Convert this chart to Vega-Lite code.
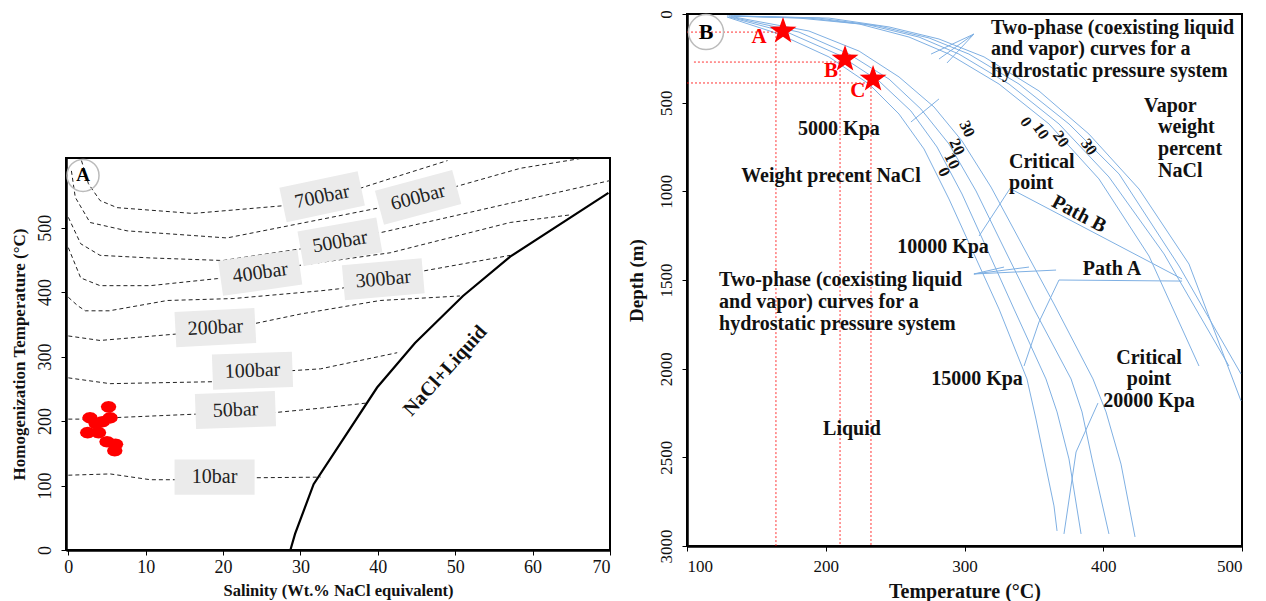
{
  "$schema": "https://vega.github.io/schema/vega-lite/v6.json",
  "background": "white",
  "padding": {"left": 9, "top": 8, "right": 5, "bottom": 0},
  "config": {
    "font": "Liberation Serif",
    "view": {"stroke": "black", "strokeWidth": 2},
    "axis": {
      "labelFont": "Liberation Serif", "titleFont": "Liberation Serif",
      "labelFontSize": 17, "titleFontSize": 15, "titleFontWeight": "bold",
      "labelColor": "#111", "titleColor": "#111",
      "domainColor": "black", "domainWidth": 2.5, "tickColor": "black", "tickSize": 5, "grid": false
    }
  },
  "datasets": {
    "isobars": [
      {"p":"10bar","i":0,"x":0,"y":116},{"p":"10bar","i":1,"x":5.4,"y":118},{"p":"10bar","i":2,"x":10.6,"y":109},{"p":"10bar","i":3,"x":14.7,"y":109},{"p":"10bar","i":4,"x":18.9,"y":112},{"p":"10bar","i":5,"x":23.5,"y":112},{"p":"10bar","i":6,"x":32.6,"y":113},
      {"p":"50bar","i":0,"x":0,"y":203},{"p":"50bar","i":1,"x":2.5,"y":203},{"p":"50bar","i":2,"x":5.4,"y":205},{"p":"50bar","i":3,"x":17,"y":211},{"p":"50bar","i":4,"x":21.6,"y":212},{"p":"50bar","i":5,"x":25.7,"y":212},{"p":"50bar","i":6,"x":30,"y":217},{"p":"50bar","i":7,"x":32.6,"y":220},{"p":"50bar","i":8,"x":38.6,"y":228},
      {"p":"100bar","i":0,"x":0,"y":267},{"p":"100bar","i":1,"x":5.4,"y":258},{"p":"100bar","i":2,"x":18.7,"y":261},{"p":"100bar","i":3,"x":23.8,"y":270},{"p":"100bar","i":4,"x":28.7,"y":278},{"p":"100bar","i":5,"x":32.6,"y":281},{"p":"100bar","i":6,"x":42.5,"y":306},
      {"p":"200bar","i":0,"x":0,"y":332},{"p":"200bar","i":1,"x":4.1,"y":325},{"p":"200bar","i":2,"x":14,"y":335},{"p":"200bar","i":3,"x":19,"y":343},{"p":"200bar","i":4,"x":24,"y":351},{"p":"200bar","i":5,"x":30,"y":366},{"p":"200bar","i":6,"x":40.3,"y":387},{"p":"200bar","i":7,"x":50.6,"y":394},
      {"p":"300bar","i":0,"x":0,"y":392},{"p":"300bar","i":1,"x":1.2,"y":379},{"p":"300bar","i":2,"x":2.2,"y":371},{"p":"300bar","i":3,"x":5.3,"y":371},{"p":"300bar","i":4,"x":12.8,"y":387},{"p":"300bar","i":5,"x":21.3,"y":390},{"p":"300bar","i":6,"x":32.6,"y":402},{"p":"300bar","i":7,"x":34.9,"y":405},{"p":"300bar","i":8,"x":40.7,"y":419},{"p":"300bar","i":9,"x":44.6,"y":430},{"p":"300bar","i":10,"x":57.1,"y":457},
      {"p":"400bar","i":0,"x":0,"y":469},{"p":"400bar","i":1,"x":1.6,"y":422},{"p":"400bar","i":2,"x":4.1,"y":410},{"p":"400bar","i":3,"x":10.6,"y":410},{"p":"400bar","i":4,"x":19.3,"y":421},{"p":"400bar","i":5,"x":24.8,"y":431},{"p":"400bar","i":6,"x":29.6,"y":441},{"p":"400bar","i":7,"x":41.6,"y":461},{"p":"400bar","i":8,"x":57.1,"y":508},{"p":"400bar","i":9,"x":65,"y":520},
      {"p":"500bar","i":0,"x":0,"y":516},{"p":"500bar","i":1,"x":1.6,"y":475},{"p":"500bar","i":2,"x":4.1,"y":457},{"p":"500bar","i":3,"x":10.6,"y":453},{"p":"500bar","i":4,"x":20,"y":449},{"p":"500bar","i":5,"x":30,"y":467},{"p":"500bar","i":6,"x":35.1,"y":478},{"p":"500bar","i":7,"x":39.9,"y":491},{"p":"500bar","i":8,"x":57.5,"y":539},{"p":"500bar","i":9,"x":70,"y":573},
      {"p":"600bar","i":0,"x":0.4,"y":588},{"p":"600bar","i":1,"x":0.9,"y":547},{"p":"600bar","i":2,"x":2.8,"y":508},{"p":"600bar","i":3,"x":7.6,"y":495},{"p":"600bar","i":4,"x":20.5,"y":484},{"p":"600bar","i":5,"x":39.9,"y":530},{"p":"600bar","i":6,"x":45.2,"y":547},{"p":"600bar","i":7,"x":49.6,"y":562},{"p":"600bar","i":8,"x":58.4,"y":592},{"p":"600bar","i":9,"x":66.1,"y":607},
      {"p":"700bar","i":0,"x":1.7,"y":604},{"p":"700bar","i":1,"x":2.6,"y":568},{"p":"700bar","i":2,"x":4.1,"y":542},{"p":"700bar","i":3,"x":6.3,"y":531},{"p":"700bar","i":4,"x":16.1,"y":522},{"p":"700bar","i":5,"x":27.8,"y":534},{"p":"700bar","i":6,"x":32.8,"y":548},{"p":"700bar","i":7,"x":37.7,"y":561},{"p":"700bar","i":8,"x":41.6,"y":576},{"p":"700bar","i":9,"x":49,"y":604}
    ],
    "nacl": [
      {"i":0,"x":28.7,"y":0},{"i":1,"x":29.3,"y":25},{"i":2,"x":31.7,"y":102},{"i":3,"x":39.9,"y":252},{"i":4,"x":44.8,"y":321},{"i":5,"x":51,"y":394},{"i":6,"x":57.1,"y":455},{"i":7,"x":69.8,"y":554}
    ],
    "isolabels": [
      {"label":"700bar","x":32.8,"y":548,"tilt":-12},
      {"label":"600bar","x":45.2,"y":547,"tilt":-15},
      {"label":"500bar","x":35.1,"y":478,"tilt":-10},
      {"label":"400bar","x":24.8,"y":430,"tilt":-8},
      {"label":"300bar","x":40.7,"y":420,"tilt":-5},
      {"label":"200bar","x":19,"y":345,"tilt":-3},
      {"label":"100bar","x":23.8,"y":278,"tilt":-2},
      {"label":"50bar","x":21.6,"y":217,"tilt":-2},
      {"label":"10bar","x":18.9,"y":113,"tilt":0}
    ],
    "dots": [
      {"x":5.2,"y":222},{"x":2.8,"y":205},{"x":5.4,"y":205},{"x":3.6,"y":196},{"x":4.4,"y":199},{"x":2.5,"y":182},{"x":3.9,"y":182},{"x":5,"y":168},{"x":6.1,"y":164},{"x":6.0,"y":154}
    ],
    "curves": [
      {"g":"L0","i":0,"t":128.8,"d":17},{"g":"L0","i":1,"t":166.3,"d":113},{"g":"L0","i":2,"t":202.3,"d":242},{"g":"L0","i":3,"t":231.2,"d":395},{"g":"L0","i":4,"t":252.8,"d":564},{"g":"L0","i":5,"t":270.8,"d":761},{"g":"L0","i":6,"t":288.8,"d":1043},{"g":"L0","i":7,"t":306.8,"d":1353},{"g":"L0","i":8,"t":324.9,"d":1664},{"g":"L0","i":9,"t":345.0,"d":2058},{"g":"L0","i":10,"t":351.5,"d":2284},{"g":"L0","i":11,"t":364.5,"d":2774},{"g":"L0","i":12,"t":366.7,"d":2915},
      {"g":"L10","i":0,"t":130.3,"d":17},{"g":"L10","i":1,"t":173.5,"d":107},{"g":"L10","i":2,"t":209.5,"d":231},{"g":"L10","i":3,"t":238.4,"d":378},{"g":"L10","i":4,"t":261.4,"d":547},{"g":"L10","i":5,"t":280.2,"d":750},{"g":"L10","i":6,"t":298.2,"d":1015},{"g":"L10","i":7,"t":316.2,"d":1325},{"g":"L10","i":8,"t":335.7,"d":1664},{"g":"L10","i":9,"t":358.7,"d":2058},{"g":"L10","i":10,"t":366.7,"d":2244},{"g":"L10","i":11,"t":375.3,"d":2509},{"g":"L10","i":12,"t":384.0,"d":2932},
      {"g":"L20","i":0,"t":131.7,"d":17},{"g":"L20","i":1,"t":180.7,"d":102},{"g":"L20","i":2,"t":216.8,"d":226},{"g":"L20","i":3,"t":245.6,"d":367},{"g":"L20","i":4,"t":268.6,"d":536},{"g":"L20","i":5,"t":288.8,"d":733},{"g":"L20","i":6,"t":308.3,"d":998},{"g":"L20","i":7,"t":327.0,"d":1297},{"g":"L20","i":8,"t":350.1,"d":1664},{"g":"L20","i":9,"t":376.8,"d":2058},{"g":"L20","i":10,"t":384.7,"d":2244},{"g":"L20","i":11,"t":391.9,"d":2509},{"g":"L20","i":12,"t":404.1,"d":2932},
      {"g":"L30","i":0,"t":133.9,"d":17},{"g":"L30","i":1,"t":187.9,"d":96},{"g":"L30","i":2,"t":224.0,"d":209},{"g":"L30","i":3,"t":252.8,"d":355},{"g":"L30","i":4,"t":278.0,"d":524},{"g":"L30","i":5,"t":298.2,"d":716},{"g":"L30","i":6,"t":319.1,"d":976},{"g":"L30","i":7,"t":339.3,"d":1269},{"g":"L30","i":8,"t":364.5,"d":1635},{"g":"L30","i":9,"t":392.6,"d":2058},{"g":"L30","i":10,"t":402.0,"d":2244},{"g":"L30","i":11,"t":412.8,"d":2538},{"g":"L30","i":12,"t":422.9,"d":2949},
      {"g":"R0","i":0,"t":128.8,"d":11},{"g":"R0","i":1,"t":180.7,"d":23},{"g":"R0","i":2,"t":224.0,"d":56},{"g":"R0","i":3,"t":260.0,"d":130},{"g":"R0","i":4,"t":288.8,"d":226},{"g":"R0","i":5,"t":324.9,"d":395},{"g":"R0","i":6,"t":360.9,"d":620},{"g":"R0","i":7,"t":396.9,"d":930},{"g":"R0","i":8,"t":433.0,"d":1365},{"g":"R0","i":9,"t":469.0,"d":1985},
      {"g":"R10","i":0,"t":130.3,"d":11},{"g":"R10","i":1,"t":187.9,"d":23},{"g":"R10","i":2,"t":231.2,"d":62},{"g":"R10","i":3,"t":267.2,"d":130},{"g":"R10","i":4,"t":296.0,"d":226},{"g":"R10","i":5,"t":332.1,"d":395},{"g":"R10","i":6,"t":368.1,"d":620},{"g":"R10","i":7,"t":404.1,"d":919},{"g":"R10","i":8,"t":443.8,"d":1353},{"g":"R10","i":9,"t":490.6,"d":1985},
      {"g":"R20","i":0,"t":131.7,"d":11},{"g":"R20","i":1,"t":195.1,"d":23},{"g":"R20","i":2,"t":238.4,"d":68},{"g":"R20","i":3,"t":274.4,"d":135},{"g":"R20","i":4,"t":303.2,"d":226},{"g":"R20","i":5,"t":339.3,"d":395},{"g":"R20","i":6,"t":375.3,"d":620},{"g":"R20","i":7,"t":411.4,"d":902},{"g":"R20","i":8,"t":454.6,"d":1421},{"g":"R20","i":9,"t":499.3,"d":2030},
      {"g":"R30","i":0,"t":133.9,"d":11},{"g":"R30","i":1,"t":202.3,"d":23},{"g":"R30","i":2,"t":245.6,"d":73},{"g":"R30","i":3,"t":281.6,"d":141},{"g":"R30","i":4,"t":314.1,"d":242},{"g":"R30","i":5,"t":353.7,"d":434},{"g":"R30","i":6,"t":389.7,"d":677},{"g":"R30","i":7,"t":425.8,"d":987},{"g":"R30","i":8,"t":461.8,"d":1410},{"g":"R30","i":9,"t":499.3,"d":2182},
      {"g":"P1","i":0,"t":306.8,"d":113},{"g":"P1","i":1,"t":275.9,"d":226},
      {"g":"P2","i":0,"t":306.8,"d":113},{"g":"P2","i":1,"t":281.6,"d":254},
      {"g":"P3","i":0,"t":306.8,"d":113},{"g":"P3","i":1,"t":287.4,"d":276},
      {"g":"P4","i":0,"t":306.8,"d":1466},{"g":"P4","i":1,"t":328.5,"d":1427},
      {"g":"P5","i":0,"t":306.8,"d":1466},{"g":"P5","i":1,"t":346.5,"d":1427},
      {"g":"P6","i":0,"t":306.8,"d":1466},{"g":"P6","i":1,"t":366.0,"d":1444},
      {"g":"CP","i":0,"t":333.5,"d":976},{"g":"CP","i":1,"t":310.5,"d":1252},
      {"g":"PB","i":0,"t":333.5,"d":987},{"g":"PB","i":1,"t":456.8,"d":1494},
      {"g":"PA","i":0,"t":368.1,"d":1500},{"g":"PA","i":1,"t":456.8,"d":1506},
      {"g":"C2","i":0,"t":368.1,"d":1500},{"g":"C2","i":1,"t":353.7,"d":1737},{"g":"C2","i":2,"t":342.9,"d":1985},
      {"g":"C3","i":0,"t":371.7,"d":2932},{"g":"C3","i":1,"t":380.4,"d":2470},{"g":"C3","i":2,"t":396.2,"d":2194},
      {"g":"C1","i":0,"t":261.4,"d":609},{"g":"C1","i":1,"t":281.6,"d":479}
    ],
    "guides": [
      {"g":"hA","i":0,"t":100,"d":102},{"g":"hA","i":1,"t":164.1,"d":102},
      {"g":"vA","i":0,"t":164.1,"d":102},{"g":"vA","i":1,"t":164.1,"d":3000},
      {"g":"hB","i":0,"t":105,"d":271},{"g":"hB","i":1,"t":210.3,"d":271},
      {"g":"vB","i":0,"t":210.3,"d":271},{"g":"vB","i":1,"t":210.3,"d":3000},
      {"g":"hC","i":0,"t":100,"d":389},{"g":"hC","i":1,"t":232.6,"d":389},
      {"g":"vC","i":0,"t":232.6,"d":389},{"g":"vC","i":1,"t":232.6,"d":3000}
    ],
    "stars": [
      {"name":"A","t_star":169.2,"d_star":96,"t_lab":151.9,"d_lab":130},
      {"name":"B","t_star":213.9,"d_star":254,"t_lab":203.8,"d_lab":321},
      {"name":"C","t_star":234.1,"d_star":367,"t_lab":223.2,"d_lab":434}
    ],
    "annBleft": [
      {"t":319.1,"d":79,"txt":"Two-phase (coexisting liquid"},
      {"t":319.1,"d":197,"txt":"and vapor) curves for a"},
      {"t":319.1,"d":321,"txt":"hydrostatic pressure system"},
      {"t":429.4,"d":519,"txt":"Vapor"},
      {"t":439.5,"d":637,"txt":"weight"},
      {"t":439.5,"d":761,"txt":"percent"},
      {"t":439.5,"d":885,"txt":"NaCl"},
      {"t":332.1,"d":835,"txt":"Critical"},
      {"t":332.1,"d":953,"txt":"point"},
      {"t":123.1,"d":1500,"txt":"Two-phase (coexisting liquid"},
      {"t":123.1,"d":1624,"txt":"and vapor) curves for a"},
      {"t":123.1,"d":1748,"txt":"hydrostatic pressure system"}
    ],
    "annBcenter": [
      {"t":209.5,"d":648,"txt":"5000 Kpa","tilt":0},
      {"t":203.8,"d":914,"txt":"Weight precent NaCl","tilt":0},
      {"t":284.5,"d":1314,"txt":"10000 Kpa","tilt":0},
      {"t":406.3,"d":1438,"txt":"Path A","tilt":0},
      {"t":382.5,"d":1128,"txt":"Path B","tilt":28},
      {"t":309,"d":2058,"txt":"15000 Kpa","tilt":0},
      {"t":433,"d":1940,"txt":"Critical","tilt":0},
      {"t":433,"d":2058,"txt":"point","tilt":0},
      {"t":433,"d":2185,"txt":"20000 Kpa","tilt":0},
      {"t":218.9,"d":2340,"txt":"Liquid","tilt":0}
    ],
    "curvelabels": [
      {"t":301.8,"d":648,"txt":"30","tilt":65},
      {"t":294.6,"d":750,"txt":"20","tilt":65},
      {"t":291.0,"d":829,"txt":"10","tilt":65},
      {"t":285.2,"d":891,"txt":"0","tilt":65},
      {"t":344.3,"d":609,"txt":"0","tilt":55},
      {"t":355.1,"d":660,"txt":"10","tilt":55},
      {"t":369.5,"d":705,"txt":"20","tilt":55},
      {"t":389.7,"d":750,"txt":"30","tilt":55}
    ]
  },
  "spacing": 12,
  "hconcat": [
    {
      "spacing": 0,
      "vconcat": [
        {
          "width": 544, "height": 141,
          "view": {"stroke": null},
          "data": {"values": [{"k": 1}]},
          "mark": {"type": "text", "text": " "},
          "encoding": {}
        },
        {
          "width": 544, "height": 392,
          "layer": [
            {
              "data": {"name": "isobars"},
              "mark": {"type": "line", "color": "#222", "strokeWidth": 1, "strokeDash": [4, 3]},
              "encoding": {
                "x": {"field": "x", "type": "quantitative", "scale": {"domain": [-0.3, 70], "nice": false},
                      "axis": {"title": "Salinity (Wt.% NaCl equivalent)", "values": [0,10,20,30,40,50,60,70], "labelFontSize": 18, "titleFontSize": 16.5, "labelPadding": 3, "titlePadding": 6}},
                "y": {"field": "y", "type": "quantitative", "scale": {"domain": [0, 608], "nice": false},
                      "axis": {"title": "Homogenization Temperature (°C)", "values": [0,100,200,300,400,500], "labelAngle": -90, "labelFontSize": 18, "titleFontSize": 17, "labelPadding": 7, "titlePadding": 8}},
                "detail": {"field": "p", "type": "nominal"},
                "order": {"field": "i", "type": "quantitative"}
              }
            },
            {
              "data": {"name": "nacl"},
              "mark": {"type": "line", "color": "black", "strokeWidth": 2.2},
              "encoding": {
                "x": {"field": "x", "type": "quantitative"},
                "y": {"field": "y", "type": "quantitative"},
                "order": {"field": "i", "type": "quantitative"}
              }
            },
            {
              "data": {"name": "isolabels"},
              "mark": {"type": "point", "shape": "M-1,-0.44L1,-0.44L1,0.44L-1,0.44Z", "filled": true, "color": "#ebebeb", "opacity": 1, "size": 6400},
              "encoding": {
                "x": {"field": "x", "type": "quantitative"},
                "y": {"field": "y", "type": "quantitative"},
                "angle": {"field": "tilt", "type": "quantitative", "scale": null}
              }
            },
            {
              "data": {"name": "isolabels"},
              "mark": {"type": "text", "font": "Liberation Serif", "fontSize": 20, "color": "#222", "align": "center", "baseline": "middle"},
              "encoding": {
                "x": {"field": "x", "type": "quantitative"},
                "y": {"field": "y", "type": "quantitative"},
                "text": {"field": "label", "type": "nominal"},
                "angle": {"field": "tilt", "type": "quantitative", "scale": null}
              }
            },
            {
              "data": {"name": "dots"},
              "mark": {"type": "point", "shape": "M1,0L0.87,0.38L0.5,0.65L0,0.75L-0.5,0.65L-0.87,0.38L-1,0L-0.87,-0.38L-0.5,-0.65L0,-0.75L0.5,-0.65L0.87,-0.38Z", "filled": true, "color": "#ff0000", "opacity": 1, "size": 240},
              "encoding": {
                "x": {"field": "x", "type": "quantitative"},
                "y": {"field": "y", "type": "quantitative"}
              }
            },
            {
              "data": {"values": [{"x": 48.7, "y": 278, "txt": "NaCl+Liquid"}]},
              "mark": {"type": "text", "font": "Liberation Serif", "fontSize": 20, "fontWeight": "bold", "color": "#111", "angle": -48, "align": "center", "baseline": "middle"},
              "encoding": {
                "x": {"field": "x", "type": "quantitative"},
                "y": {"field": "y", "type": "quantitative"},
                "text": {"field": "txt", "type": "nominal"}
              }
            },
            {
              "data": {"values": [{"x": 1.9, "y": 581, "txt": "A"}]},
              "mark": {"type": "point", "shape": "circle", "size": 1024, "filled": false, "color": "#bbbbbb", "strokeWidth": 1.5, "opacity": 1},
              "encoding": {"x": {"field": "x", "type": "quantitative"}, "y": {"field": "y", "type": "quantitative"}}
            },
            {
              "data": {"values": [{"x": 1.9, "y": 581, "txt": "A"}]},
              "mark": {"type": "text", "font": "Liberation Serif", "fontSize": 19, "fontWeight": "bold", "color": "black", "align": "center", "baseline": "middle"},
              "encoding": {"x": {"field": "x", "type": "quantitative"}, "y": {"field": "y", "type": "quantitative"}, "text": {"field": "txt", "type": "nominal"}}
            }
          ]
        }
      ]
    },
    {
      "width": 555, "height": 532,
      "layer": [
        {
          "data": {"name": "curves"},
          "mark": {"type": "line", "color": "#7fb0e3", "strokeWidth": 1},
          "encoding": {
            "x": {"field": "t", "type": "quantitative", "scale": {"domain": [100, 500], "nice": false},
                  "axis": {"title": "Temperature (°C)", "values": [100,200,300,400,500], "labelPadding": 7, "titlePadding": 7, "titleFontSize": 20}},
            "y": {"field": "d", "type": "quantitative", "scale": {"domain": [0, 3000], "nice": false, "reverse": true},
                  "axis": {"title": "Depth (m)", "values": [0,500,1000,1500,2000,2500,3000], "format": "d", "labelAngle": -90, "labelPadding": 7, "titlePadding": 11, "titleFontSize": 19}},
            "detail": {"field": "g", "type": "nominal"},
            "order": {"field": "i", "type": "quantitative"}
          }
        },
        {
          "data": {"name": "guides"},
          "mark": {"type": "line", "color": "#ff0000", "strokeWidth": 1, "strokeDash": [2, 2], "opacity": 0.8},
          "encoding": {
            "x": {"field": "t", "type": "quantitative"},
            "y": {"field": "d", "type": "quantitative"},
            "detail": {"field": "g", "type": "nominal"},
            "order": {"field": "i", "type": "quantitative"}
          }
        },
        {
          "data": {"name": "stars"},
          "mark": {"type": "point", "shape": "M0,-1L0.235,-0.324L0.951,-0.309L0.38,0.124L0.588,0.809L0,0.4L-0.588,0.809L-0.38,0.124L-0.951,-0.309L-0.235,-0.324Z", "filled": true, "color": "#ff0000", "opacity": 1, "size": 800},
          "encoding": {
            "x": {"field": "t_star", "type": "quantitative"},
            "y": {"field": "d_star", "type": "quantitative"}
          }
        },
        {
          "data": {"name": "stars"},
          "mark": {"type": "text", "font": "Liberation Serif", "fontSize": 21, "fontWeight": "bold", "color": "#ff0000", "align": "center", "baseline": "middle"},
          "encoding": {
            "x": {"field": "t_lab", "type": "quantitative"},
            "y": {"field": "d_lab", "type": "quantitative"},
            "text": {"field": "name", "type": "nominal"}
          }
        },
        {
          "data": {"name": "annBleft"},
          "mark": {"type": "text", "font": "Liberation Serif", "fontSize": 20, "fontWeight": "bold", "color": "#111", "align": "left", "baseline": "middle"},
          "encoding": {
            "x": {"field": "t", "type": "quantitative"},
            "y": {"field": "d", "type": "quantitative"},
            "text": {"field": "txt", "type": "nominal"}
          }
        },
        {
          "data": {"name": "annBcenter"},
          "mark": {"type": "text", "font": "Liberation Serif", "fontSize": 20, "fontWeight": "bold", "color": "#111", "align": "center", "baseline": "middle"},
          "encoding": {
            "x": {"field": "t", "type": "quantitative"},
            "y": {"field": "d", "type": "quantitative"},
            "text": {"field": "txt", "type": "nominal"},
            "angle": {"field": "tilt", "type": "quantitative", "scale": null}
          }
        },
        {
          "data": {"name": "curvelabels"},
          "mark": {"type": "text", "font": "Liberation Serif", "fontSize": 16, "fontWeight": "bold", "color": "#111", "align": "center", "baseline": "middle"},
          "encoding": {
            "x": {"field": "t", "type": "quantitative"},
            "y": {"field": "d", "type": "quantitative"},
            "text": {"field": "txt", "type": "nominal"},
            "angle": {"field": "tilt", "type": "quantitative", "scale": null}
          }
        },
        {
          "data": {"values": [{"t": 113.7, "d": 102, "txt": "B"}]},
          "mark": {"type": "point", "shape": "circle", "size": 1225, "filled": false, "color": "#bbbbbb", "strokeWidth": 1.5, "opacity": 1},
          "encoding": {"x": {"field": "t", "type": "quantitative"}, "y": {"field": "d", "type": "quantitative"}}
        },
        {
          "data": {"values": [{"t": 113.7, "d": 102, "txt": "B"}]},
          "mark": {"type": "text", "font": "Liberation Serif", "fontSize": 22, "fontWeight": "bold", "color": "black", "align": "center", "baseline": "middle"},
          "encoding": {"x": {"field": "t", "type": "quantitative"}, "y": {"field": "d", "type": "quantitative"}, "text": {"field": "txt", "type": "nominal"}}
        }
      ]
    }
  ]
}
